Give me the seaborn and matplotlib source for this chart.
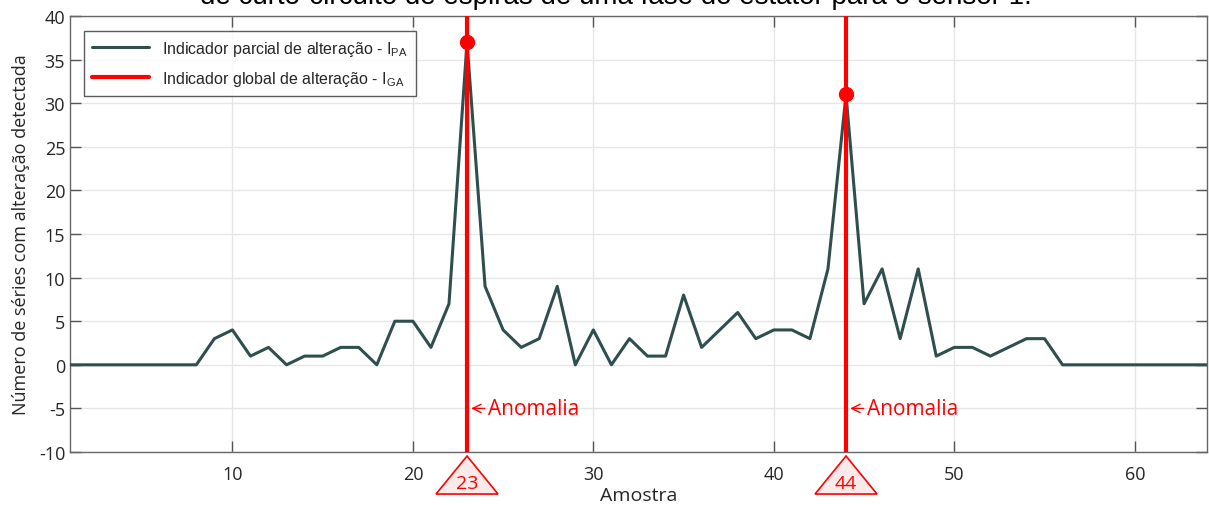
import matplotlib
matplotlib.use('Agg')
import matplotlib.pyplot as plt
import seaborn as sns
import pandas as pd
from matplotlib.patches import Polygon
from matplotlib.transforms import ScaledTranslation

# amostras e indicador parcial
amostra = list(range(1, 65))
ipa = [0, 0, 0, 0, 0, 0, 0, 0, 3, 4,
       1, 2, 0, 1, 1, 2, 2, 0, 5, 5,
       2, 7, 37, 9, 4, 2, 3, 9, 0, 4,
       0, 3, 1, 1, 8, 2, 4, 6, 3, 4,
       4, 3, 11, 31, 7, 11, 3, 11, 1, 2,
       2, 1, 2, 3, 3, 0, 0, 0, 0, 0,
       0, 0, 0, 0]
anomalias = [23, 44]
pico = [37, 31]

titulo = 'de curto-circuito de espiras de uma fase do estator para o sensor 1.'
lbl_pa = r'Indicador parcial de alteração - I$_{\mathrm{PA}}$'
lbl_ga = r'Indicador global de alteração - I$_{\mathrm{GA}}$'

sns.set_style('ticks')
plt.rcParams['font.family'] = ['Liberation Sans', 'DejaVu Sans']
plt.rcParams['mathtext.fontset'] = 'custom'
plt.rcParams['mathtext.rm'] = 'Liberation Sans'
plt.rcParams['axes.unicode_minus'] = False

df = pd.DataFrame({'Amostra': amostra, 'IPA': ipa})

fig = plt.figure(figsize=(12.09, 5.06), dpi=100)
ax = fig.add_axes([0.0579, 0.1047, 0.9404, 0.8617])

sns.lineplot(data=df, x='Amostra', y='IPA', ax=ax, color='#2f4f4f',
             linewidth=2.2, label=lbl_pa, zorder=3)

for i, (a, p) in enumerate(zip(anomalias, pico)):
    ax.axvline(a, color='#ff0000', linewidth=3, zorder=4,
               label=lbl_ga if i == 0 else None)
    ax.plot([a], [p], 'o', color='#ff0000', markersize=10, zorder=5)
    ax.annotate('Anomalia', xy=(a, -5), xytext=(21, 0), textcoords='offset pixels',
                color='#ff0000', fontsize=15, va='center', ha='left',
                family='Open Sans',
                arrowprops=dict(arrowstyle='->', color='#ff0000', lw=1,
                                shrinkA=0, shrinkB=3))
    # triangulo abaixo do eixo
    tf = fig.dpi_scale_trans + ScaledTranslation(a, 0, ax.get_xaxis_transform())
    tri = Polygon([(0, -0.04), (-0.31, -0.42), (0.31, -0.42)], closed=True,
                  transform=tf, facecolor='#fbeaea', edgecolor='#ff0000',
                  linewidth=1.2, clip_on=False, zorder=6)
    fig.add_artist(tri)
    fig.text(0, -0.31, str(a), transform=tf, color='#ff0000', fontsize=14,
             ha='center', va='center', family='Open Sans', zorder=7)

ax.set_xlim(1, 64)
ax.set_ylim(-10, 40)
ax.set_xticks(range(10, 61, 10))
ax.set_yticks(range(-10, 41, 5))
ax.grid(True, color='#e6e6e6', linewidth=1)
ax.set_axisbelow(True)
for s in ax.spines.values():
    s.set_visible(True)
    s.set_color('#666666')
    s.set_linewidth(1)
ax.tick_params(direction='in', length=8, width=1, color='#555555',
               top=True, right=True, labelsize=13, labelcolor='#262626')
ax.tick_params(axis='x', pad=9)
for t in ax.get_xticklabels() + ax.get_yticklabels():
    t.set_family('Open Sans')

ax.set_xlabel('Amostra', fontsize=14, color='#262626', family='Open Sans')
ax.xaxis.set_label_coords(0.5, -0.098)
ax.xaxis.label.set_va('center')
ax.set_ylabel('Número de séries com alteração detectada', fontsize=13,
              color='#262626', labelpad=6, family='Open Sans')

leg = ax.legend(loc='upper left', bbox_to_anchor=(0.0123, 0.966), borderaxespad=0,
                fontsize=11.5, frameon=True, fancybox=False, handlelength=3.6,
                labelspacing=0.7, borderpad=0.5)
leg.get_frame().set_edgecolor('#333333')
leg.get_frame().set_linewidth(1)

fig.text(0.509, 1 - 4 / 506, titulo, ha='center', va='baseline', fontsize=20,
         color='black')

fig.savefig('out.png', dpi=100)
